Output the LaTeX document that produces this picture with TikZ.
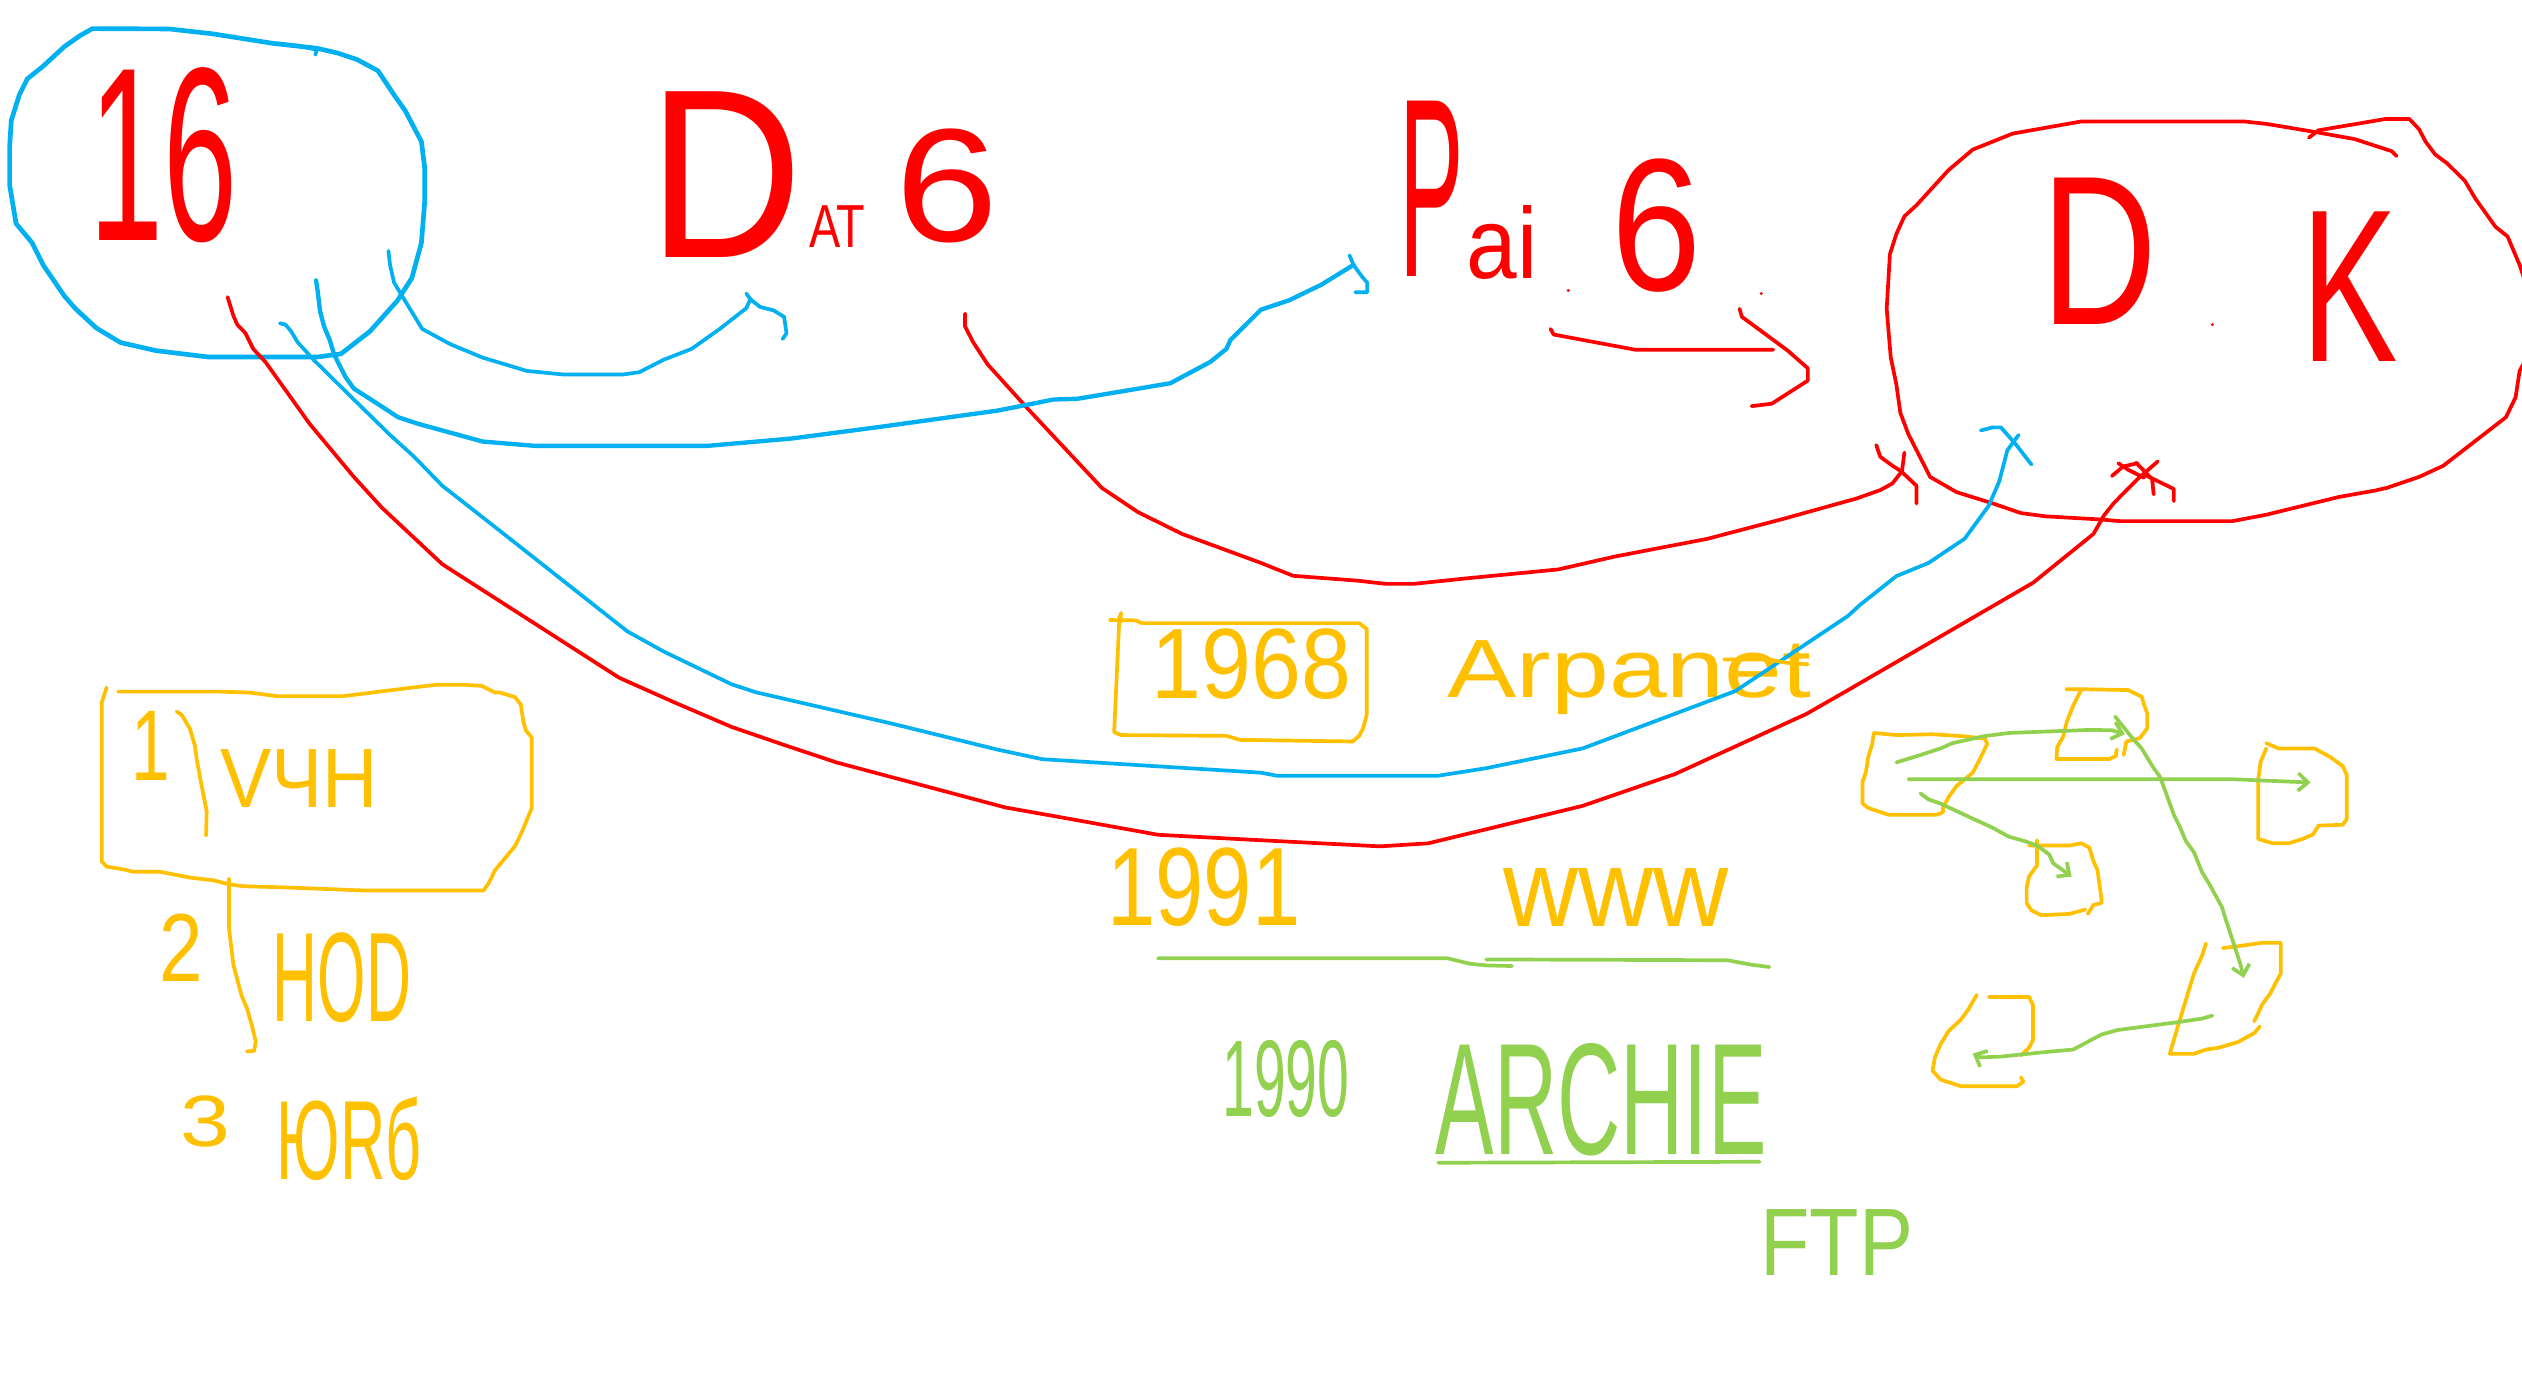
\documentclass[tikz,border=0pt]{standalone}
\usepackage{fontspec}
\setmainfont{Liberation Sans}
\usepackage{graphicx}
\usetikzlibrary{arrows.meta}
\definecolor{hred}{HTML}{FF0000}
\definecolor{hblue}{HTML}{00B0F0}
\definecolor{horange}{HTML}{FFC000}
\definecolor{hgreen}{HTML}{92D050}
\newcommand{\hwtext}[3]{\resizebox*{#1pt}{#2pt}{#3}}
\tikzset{
  pen/.style={line width=2.3pt, line cap=round, line join=round},
  redpen/.style={pen, draw=hred},
  bluepen/.style={pen, draw=hblue},
  orangepen/.style={pen, draw=horange},
  greenpen/.style={pen, draw=hgreen},
  txt/.style={inner sep=0pt, outer sep=0pt},
  garrow/.style={greenpen, -{Straight Barb[length=6pt,width=11pt]}},
}
\begin{document}
\begin{tikzpicture}[x=1pt,y=-1pt]
\useasboundingbox (0,0) rectangle (1568,860);
\fill[white] (0,0) rectangle (1568,860);
\clip (0,0) rectangle (1568,860);

% ---------- texts ----------
\node[txt,text=hred] (t16) at (101.5,96.5) {\hwtext{92}{109}{16}};
\node[txt,text=hred] (tD1) at (451,108.5) {\hwtext{96}{103}{D}};
\node[txt,text=hred] (tAT) at (520.5,141) {\hwtext{35}{26}{AT}};
\node[txt,text=hred] (t6a) at (589,115.5) {\hwtext{64}{71}{6}};
\node[txt,text=hred] (tP) at (890,117.5) {\hwtext{40}{109}{P}};
\node[txt,text=hred] (tai) at (934,151) {\hwtext{44}{46}{ai}};
\node[txt,text=hred] (t6b) at (1030,140.5) {\hwtext{56}{83}{6}};
\node[txt,text=hred] (tD2) at (1305.5,156.5) {\hwtext{72}{91}{D}};
\node[txt,text=hred] (tK) at (1461,178.5) {\hwtext{60}{93}{K}};

\node[txt,text=horange] (t1968) at (778,413) {\hwtext{124}{44}{1968}};
\node[txt,text=horange] (tarpa) at (1013,421) {\hwtext{226}{46}{Arpanet}};
\node[txt,text=horange] (tn1) at (93.5,463.5) {\hwtext{24}{43}{1}};
\node[txt,text=horange] (tvch) at (186,484) {\hwtext{98}{36}{VЧH}};
\node[txt,text=horange] (tn2) at (112.5,589) {\hwtext{27}{42}{2}};
\node[txt,text=horange] (thod) at (212.5,608) {\hwtext{86}{56}{HOD}};
\node[txt,text=horange] (tn3) at (127.5,697) {\hwtext{31}{32}{3}};
\node[txt,text=horange] (tyur) at (217,708) {\hwtext{90}{52}{ЮRб}};
\node[txt,text=horange] (t1991) at (748.5,551.5) {\hwtext{120}{49}{1991}};
\node[txt,text=horange] (twww) at (1005,558) {\hwtext{140}{36}{www}};

\node[txt,text=hgreen] (t1990) at (799.5,671) {\hwtext{79}{48}{1990}};
\node[txt,text=hgreen] (tarch) at (995.5,684) {\hwtext{206}{70}{ARCHIE}};
\node[txt,text=hgreen] (tftp) at (1142,772.5) {\hwtext{95}{41}{FTP}};

% ---------- blue circle round 16 ----------
\draw[bluepen,line width=2.9pt] (57.5,17.8)--(105,18)--(132,21)--(170,27)--(197,30)--(210,33)--(222,37)--(235,44)--(245,59)--(252,69)--(262,88)--(264,104)--(264,126)--(262,151)--(256,173)--(247,187)--(230,206)--(212,220)--(197,222)--(130,222)--(97,218)--(75,213)--(60,204)--(47,192)--(40,184)--(27,165)--(20,151)--(10,139)--(6,115)--(6,91)--(7,75)--(12,59)--(17,49)--(27,41)--(40,29)--(50,22)--cycle;
\draw[bluepen] (172,27)--(186,28.5)--(197,31)--(196,34);

% ---------- red circle round DK ----------
\draw[redpen] (1251.5,83)--(1294,75.5)--(1395,75.5)--(1409,77)--(1439,82)--(1464,86.5)--(1487,94)--(1490,97);
\draw[redpen] (1435.5,85.6)--(1441.5,81)--(1483,74)--(1498,74)--(1504,80.4)--(1508,88)--(1514,96)--(1521.5,101.6)--(1532.5,112.5)--(1539,123.5)--(1551.5,141)--(1559,147)--(1566.5,164.7)--(1575,190)--(1575,215)--(1566.5,230.6)--(1564,247)--(1558,259.4)--(1519,289.6)--(1504,296.5)--(1484,303.3)--(1476.5,305)--(1454,309)--(1409,320)--(1388,324)--(1318,324)--(1306.5,323)--(1271.5,321)--(1256.5,319)--(1239,313)--(1216.5,306)--(1200,296.5)--(1196.5,289.6)--(1186.5,270)--(1181.5,256.7)--(1179,239)--(1175.5,222)--(1173,192)--(1175,158)--(1179,145.5)--(1184,134.5)--(1191.5,127.6)--(1211.5,105.7)--(1226.5,93)--(1251.5,83);

% small dots
\fill[hred] (975,180.6) circle (1pt) (1095,182.5) circle (1pt) (1375.5,201.8) circle (1pt);

% ---------- connector end points ----------
\coordinate (ra0) at (141.5,184.7);
\coordinate (ra1) at (1341.5,286.9);
\coordinate (rb0) at (600,195);
\coordinate (rb1) at (1184,281.4);
\coordinate (bu0) at (241.5,156);
\coordinate (bu1) at (464,182.5);
\coordinate (bl0) at (196.5,174.3);
\coordinate (bl1) at (841.5,164.7);
\coordinate (bm0) at (174,201);
\coordinate (bm1) at (1255,270.4);
\coordinate (ar0) at (964,204.5);
\coordinate (ar1) at (1102.5,217.4);

% red: 16 -> DK
\draw[redpen] (ra0)--(145,196)--(147.5,201.8)--(152.5,207)--(157.5,217)--(165,225)--(192.5,263.5)--(220,296.5)--(237.5,315.7)--(275,350.8)--(385,421.4)--(420,437)--(455,452)--(490,464)--(520,474)--(625,502)--(670,510)--(720,519)--(784,522.4)--(858,526.2)--(888,524.3)--(984,501)--(1041.5,481.2)--(1123,443.9)--(1148,429.6)--(1264,362.3)--(1301.5,332)--(1308,320.6)--(1314,313)--(1329,297.8)--(ra1);
\draw[redpen] (1313,296)--(1320,290)--(1329,288);
\draw[redpen] (1317,288)--(1323,292)--(1333,297);
\draw[redpen] (1328,287.7)--(1338,297.8)--(1339,307.4);
\draw[redpen] (1333,295)--(1351.5,304)--(1351.5,311.6);

% red: Dat6 -> DK
\draw[redpen] (rb0)--(600,203)--(605,212.7)--(614,226.5)--(637.5,252.5)--(685,303.3)--(707.5,318.4)--(735,332)--(784,350)--(804,358)--(844,361)--(861.5,363)--(879,363)--(911.5,359.6)--(969,354)--(1004,346)--(1061.5,335)--(1109,322.5)--(1154,310)--(1169,304.7)--(1176.5,300.6)--(1182.5,293)--(rb1);
\draw[redpen] (1166.5,276.7)--(1169,284)--(1176.5,289.5)--(1182,293)--(1191.5,302)--(1191.5,313);

% red arrow Pai6 -> DK
\draw[redpen] (ar0)--(966,208)--(1016.5,217.4)--(ar1);
\draw[redpen] (1081.5,192)--(1083,197)--(1111.5,218)--(1124,229)--(1124,236.6)--(1101.5,251)--(1089,252.5);

% blue: U curve 16 -> Dat
\draw[bluepen] (bu0)--(242.5,164.7)--(245,175.7)--(250,184)--(262.5,204.5)--(280,214)--(300,222.3)--(327.5,230.6)--(350,232.8)--(387.5,232.8)--(397.5,231.4)--(412.5,223.7)--(430,216.9)--(447.5,204.5)--(464,191.6)--(466.5,186)--(bu1);
\draw[bluepen] (466.5,186)--(472.5,190.8)--(481,193)--(487.5,197)--(489,207.2)--(486.5,210.8);

% blue: 16 -> Pai
\draw[bluepen,line width=2.7pt] (bl0)--(197.5,181)--(199,193.5)--(201.5,203)--(205,211.4)--(207.5,219.6)--(210,225)--(215,234.7)--(220,241.6)--(235,251.2)--(247.5,259.4)--(260,263.5)--(300,274.5)--(332.5,277.2)--(440,277.2)--(492.5,272.6)--(550,265)--(620,255.3)--(655,248.4)--(670,247.9)--(727.5,238.3)--(752.5,225)--(762.5,216.9)--(765,211.4)--(784,192.5)--(801.5,186.7)--(821.5,177)--(bl1);
\draw[bluepen] (839,158.7)--(bl1)--(846.5,171.6)--(850,175.7)--(850,181.7)--(842.5,181.7);

% blue: 16 -> DK
\draw[bluepen] (bm0)--(177.5,201.8)--(181,206)--(185,212.7)--(195,223.7)--(220,248.4)--(242.5,270.4)--(257.5,284)--(275,302)--(310,329.4)--(390,392.5)--(412.5,405)--(455,425.5)--(470,430.4)--(555,450)--(620,466)--(648,472)--(784,480.4)--(794,482.3)--(894,482.3)--(924,477.6)--(984,465.3)--(1079,429.6)--(1149,382.9)--(1156.5,376)--(1179,358.2)--(1199,350)--(1221.5,334.9)--(1236.5,314.3)--(1243,299.2)--(1248,280)--(bm1);
\draw[bluepen] (1231.5,267.6)--(1239,265.7)--(1244,265.7)--(1253,275.9)--(1263,288.8);

% ---------- orange boxes ----------
\draw[orangepen] (690,385.5)--(705.8,385.7)--(710,387.4)--(845,387.4)--(849.7,391)--(849.7,444.5)--(847.5,452.8)--(845,457.5)--(841,461)--(771,460)--(762.5,457.5)--(697,457)--(692.7,455.2)--(696,383);
\draw[orangepen] (697,381)--(696.5,387);
\draw[orangepen] (1072,410)--(1100,410)--(1110,412)--(1124,413);

\draw[orangepen] (66.3,427.4)--(63.2,437)--(63.2,535.5)--(66.3,538.8)--(76.7,540.5)--(82.9,542)--(99.5,542)--(118,545.6)--(132.6,547.3)--(143,549.9)--(151.3,551)--(174,551.6)--(228,553.7)--(300.5,553.7)--(303.6,549.5)--(307.8,541)--(320.2,526)--(324.4,517.4)--(330.6,502.4)--(330.6,458.5)--(327,454.2)--(325.4,448.8)--(323.8,438.1)--(320.2,433.4)--(311,430.6)--(307.8,430.6)--(299.5,426.4)--(287.7,425.7)--(271.5,425.7)--(257,427.4)--(213.5,432.8)--(172,432.8)--(155.4,430.6)--(136.8,430)--(73.5,430);
\draw[orangepen] (109.8,442.4)--(113,444.5)--(118.1,453.1)--(121.2,463.8)--(122.3,472)--(124.3,483)--(126.4,493.8)--(128.5,504.5)--(128.1,519.5);
\draw[orangepen] (142.4,546.3)--(142.4,577.3)--(145.1,599.8)--(150.2,619)--(153.4,626.5)--(156.5,637.2)--(159,647.5)--(158,653.3)--(153.4,653.7);

% ---------- green underlines ----------
\draw[greenpen] (720,595.8)--(900,595.8)--(914,599.2)--(924,600.2)--(940,600.6);
\draw[greenpen] (924,596.5)--(1074,597)--(1089,599.8)--(1100,601.2);
\draw[greenpen] (894.2,722.9)--(1094,722.3);

% ---------- network: orange boxes ----------
\draw[orangepen] (1165,455.7)--(1179,457)--(1201.5,456.5)--(1219,457.6)--(1234,459.2)--(1235.5,462.5)--(1231.5,470.8)--(1226.5,480.4)--(1216.5,488.6)--(1211.5,495.5)--(1208,502.3)--(1208,505)--(1204,506.5)--(1174,506.5)--(1161.5,502.3)--(1158,499.6)--(1158,485.9)--(1160,480.4)--(1161.5,470.8)--(1164,462.5)--cycle;
\draw[orangepen] (1284.6,428.5)--(1294,428.5)--(1323,429)--(1331.5,433.1)--(1333,438)--(1335,443.5)--(1335,452.8)--(1330.3,459)--(1322,461)--(1320.3,469.4);
\draw[orangepen] (1294,428.5)--(1288.7,439.3)--(1285,448.7)--(1282.7,458)--(1279,464.6)--(1278.5,471.9)--(1311.3,471.9)--(1315.5,470)--(1316,465.9);
\draw[orangepen] (1409,462)--(1416.5,465.3)--(1439,465.3)--(1449,470.8)--(1456.5,476.3)--(1459,481.8)--(1459,509.2)--(1456.5,512.8)--(1441.5,513.3)--(1438,518.8)--(1431.5,521.6)--(1423,524.3)--(1413,524.3)--(1404,521.6)--(1404,484.5)--(1405.5,473.5)--(1409,465.3);
\draw[orangepen] (1261.5,525.7)--(1286.5,525.7)--(1294,524.3)--(1299,527)--(1301.5,535.3)--(1304,540.8)--(1306.5,558.6)--(1306.5,561.4)--(1301.5,562.7)--(1298,568.2);
\draw[orangepen] (1266.5,522.4)--(1266.5,538)--(1261.5,544.9)--(1260,551.8)--(1260,561.4)--(1263,566)--(1269,569)--(1286.5,568.2)--(1296.5,565.5);
\draw[orangepen] (1371.5,586.6)--(1369,594.3)--(1364,605.3)--(1359,621.8)--(1354,638.2)--(1349,655.2)--(1364,655.2)--(1371.5,652.5)--(1379,651.5)--(1391.5,647.8)--(1401.5,642.3)--(1405,638.2);
\draw[orangepen] (1382,589.4)--(1390,588.5)--(1406.5,586.1)--(1418,586.1)--(1418,605.3)--(1415,610.8)--(1411.5,617.6)--(1406.5,624.5)--(1401.5,635);
\draw[orangepen] (1229,618.5)--(1224,627.2)--(1219,634.1)--(1211.5,641)--(1206.5,649.2)--(1203,657.4)--(1201.5,665.7)--(1206.5,671.2)--(1219,675.3)--(1254,675.3)--(1258,672.5)--(1256.5,669.8);
\draw[orangepen] (1236.5,619.8)--(1261.5,619.8)--(1264,625)--(1264,646.5)--(1261.5,651.4)--(1256.5,656.1);

% ---------- network: green arrows ----------
\coordinate (nA1) at (1179,474);
\coordinate (nB1) at (1321,456.5);
\coordinate (nA2) at (1186.5,484.5);
\coordinate (nC1) at (1436.5,486.5);
\coordinate (nA3) at (1194,493.3);
\coordinate (nD1) at (1288,545);
\coordinate (nB2) at (1315,445.5);
\coordinate (nE1) at (1395,608);
\coordinate (nE2) at (1375.5,631.4);
\coordinate (nF1) at (1226.5,655);

\draw[garrow] (nA1)--(1194,469.4)--(1206.5,465.3)--(1214,462)--(1234,457.6)--(1249,455.7)--(1299,453.8)--(1313,454)--(nB1);
\draw[garrow] (nA2)--(1389,484.5)--(nC1);
\draw[garrow] (nA3)--(1199,497)--(1206.5,499.6)--(1224,507.8)--(1239,514.7)--(1249,520.2)--(1259,523)--(1266.5,525.7)--(1274,531.2)--(1276.5,536.7)--(1284,542.1)--(nD1);
\draw[garrow] (nB2)--(1326.5,459.8)--(1331.5,465.3)--(1339,477.6)--(1343,483.1)--(1346.5,492.7)--(1351.5,506.5)--(1355.5,514.7)--(1359,522.9)--(1364,529.8)--(1369,542.1)--(1374,550.4)--(1381.5,564.1)--(1384,572.3)--(1389,587.4)--(1393,599.8)--(nE1);
\draw[garrow] (nE2)--(1369,633.3)--(1354,635.5)--(1316.5,640.4)--(1306.5,643.2)--(1289,652.5)--(1271.5,654.1)--(1244,656.9)--(1231.5,657.4)--(nF1);

\end{tikzpicture}
\end{document}
